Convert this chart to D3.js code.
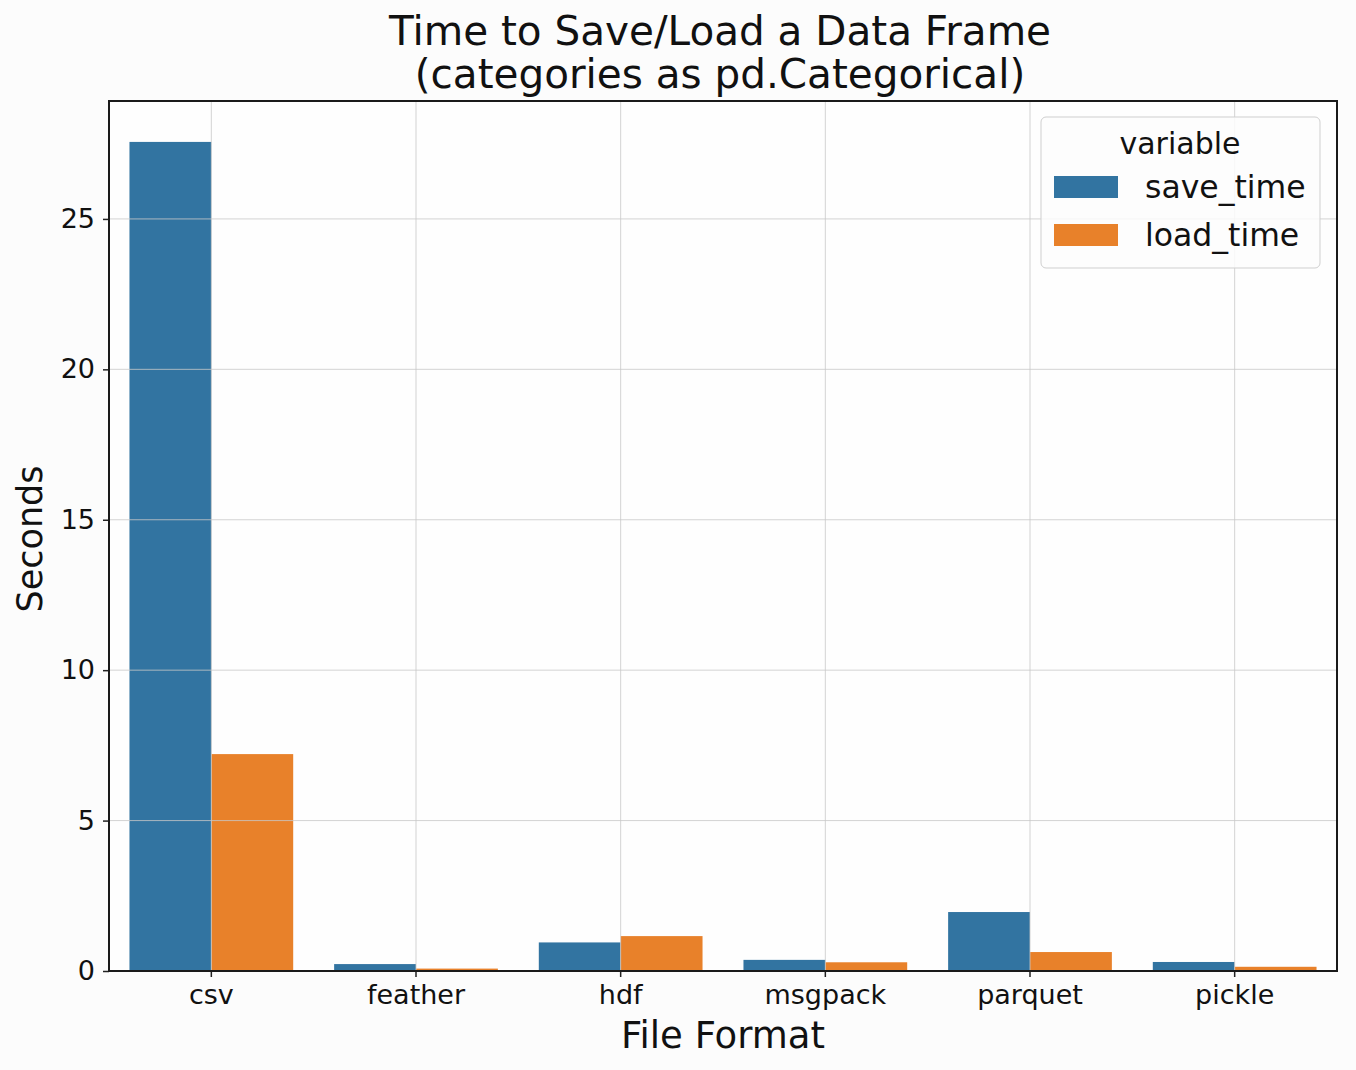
<!DOCTYPE html>
<html>
<head>
<meta charset="utf-8">
<script src="https://cdn.jsdelivr.net/npm/d3@7"></script>
<style>
  body { margin: 0; background: #fcfcfc; }
  text { font-family: "DejaVu Sans", sans-serif; fill: #111; }
</style>
</head>
<body>
<div id="chart"></div>
<script>
// data
const formats = ["csv", "feather", "hdf", "msgpack", "parquet", "pickle"];
const variables = ["save_time", "load_time"];
const saveTime = [27.56, 0.23, 0.95, 0.37, 1.96, 0.30];
const loadTime = [7.21, 0.08, 1.16, 0.29, 0.63, 0.14];
const yTicks = [0, 5, 10, 15, 20, 25];
const colors = ["#3274a1", "#e8812a"];

const svgWidth = 1356;
const svgHeight = 1070;
const margin = { top: 101, right: 19, bottom: 99, left: 109 };
const width = svgWidth - margin.left - margin.right;
const height = svgHeight - margin.top - margin.bottom;

const rows = formats.map((f, i) => ({ format: f, save_time: saveTime[i], load_time: loadTime[i] }));

const svg = d3.select("#chart")
  .append("svg")
  .attr("width", svgWidth)
  .attr("height", svgHeight);

svg.append("rect")
  .attr("width", svgWidth)
  .attr("height", svgHeight)
  .attr("fill", "#fcfcfc");

const chartGroup = svg.append("g")
  .attr("transform", `translate(${margin.left}, ${margin.top})`);

chartGroup.append("rect")
  .attr("width", width)
  .attr("height", height)
  .attr("fill", "#fefefe");

const xScale = d3.scaleBand()
  .domain(formats)
  .range([0, width])
  .padding(0);

const xInner = d3.scaleBand()
  .domain(variables)
  .range([xScale.bandwidth() * 0.1, xScale.bandwidth() * 0.9]);

const yScale = d3.scaleLinear()
  .domain([0, 28.92])
  .range([height, 0]);

// bars
chartGroup.append("g")
  .selectAll("g")
  .data(rows)
  .join("g")
  .attr("transform", d => `translate(${xScale(d.format)}, 0)`)
  .selectAll("rect")
  .data(d => variables.map((v, j) => ({ key: v, value: d[v], j })))
  .join("rect")
  .attr("x", d => xInner(d.key))
  .attr("width", xInner.bandwidth())
  .attr("y", d => yScale(d.value))
  .attr("height", d => height - yScale(d.value))
  .attr("fill", d => colors[d.j]);

// grid drawn above bars
const grid = chartGroup.append("g")
  .attr("stroke", "#c8c8c8")
  .attr("stroke-opacity", 0.8)
  .attr("stroke-width", 1);

grid.selectAll("line.h")
  .data(yTicks.slice(1))
  .join("line")
  .attr("class", "h")
  .attr("x1", 0)
  .attr("x2", width)
  .attr("y1", d => yScale(d))
  .attr("y2", d => yScale(d));

grid.selectAll("line.v")
  .data(formats)
  .join("line")
  .attr("class", "v")
  .attr("y1", 0)
  .attr("y2", height)
  .attr("x1", d => xScale(d) + xScale.bandwidth() / 2)
  .attr("x2", d => xScale(d) + xScale.bandwidth() / 2);

// axes
const bottomAxis = d3.axisBottom(xScale).tickSize(6).tickSizeOuter(0).tickPadding(8);
const leftAxis = d3.axisLeft(yScale).tickValues(yTicks).tickSize(6).tickSizeOuter(0).tickPadding(8);

const xAxis = chartGroup.append("g")
  .attr("transform", `translate(0, ${height})`)
  .call(bottomAxis);
xAxis.selectAll("text").attr("font-size", "27px").attr("font-family", "DejaVu Sans");

const yAxis = chartGroup.append("g")
  .call(leftAxis);
yAxis.selectAll("text").attr("font-size", "27px").attr("font-family", "DejaVu Sans");

[xAxis, yAxis].forEach(a => {
  a.select(".domain").remove();
  a.selectAll("line").attr("stroke", "#222").attr("stroke-width", 1.5);
});

// frame
chartGroup.append("rect")
  .attr("width", width)
  .attr("height", height)
  .attr("fill", "none")
  .attr("stroke", "#1a1a1a")
  .attr("stroke-width", 2);

// title
const title = svg.append("text")
  .attr("x", margin.left + width / 2)
  .attr("text-anchor", "middle")
  .attr("font-size", "40.5px");
title.append("tspan").attr("x", margin.left + width / 2 - 3).attr("y", 45).text("Time to Save/Load a Data Frame");
title.append("tspan").attr("x", margin.left + width / 2 - 3).attr("y", 88).text("(categories as pd.Categorical)");

// axis labels
svg.append("text")
  .attr("x", margin.left + width / 2)
  .attr("y", 1048)
  .attr("text-anchor", "middle")
  .attr("font-size", "37px")
  .text("File Format");

svg.append("text")
  .attr("transform", `translate(42, ${margin.top + height / 2 + 3}) rotate(-90)`)
  .attr("text-anchor", "middle")
  .attr("font-size", "35px")
  .text("Seconds");

// legend
const legend = svg.append("g")
  .attr("transform", "translate(1041, 117)");

legend.append("rect")
  .attr("width", 279)
  .attr("height", 151)
  .attr("rx", 5)
  .attr("fill", "#fdfdfd")
  .attr("fill-opacity", 0.85)
  .attr("stroke", "#cfcfcf")
  .attr("stroke-width", 1);

legend.append("text")
  .attr("x", 139)
  .attr("y", 37)
  .attr("text-anchor", "middle")
  .attr("font-size", "30px")
  .text("variable");

const items = legend.selectAll("g.item")
  .data(variables)
  .join("g")
  .attr("class", "item")
  .attr("transform", (d, i) => `translate(0, ${59 + i * 48})`);

items.append("rect")
  .attr("x", 13)
  .attr("width", 64)
  .attr("height", 22)
  .attr("fill", (d, i) => colors[i]);

items.append("text")
  .attr("x", 104)
  .attr("y", 22)
  .attr("font-size", "31.5px")
  .text(d => d);
</script>
</body>
</html>
